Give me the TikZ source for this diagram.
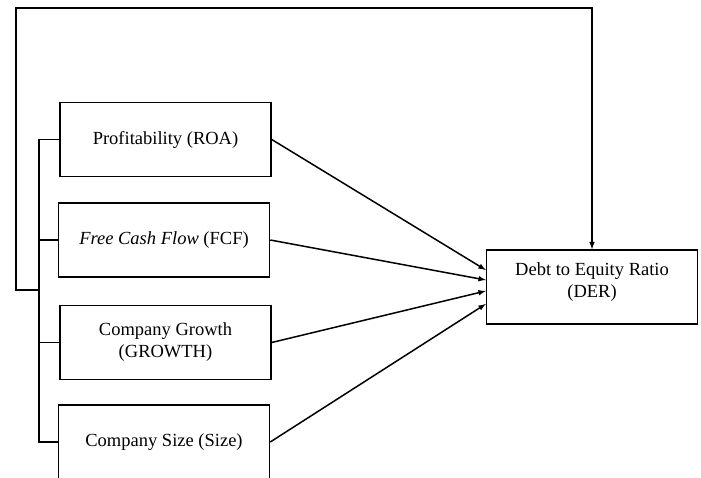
\documentclass[tikz,border=0pt]{standalone}
\usepackage{fontspec}
\setmainfont{Liberation Serif}
\usepackage{tikz}

\begin{document}
\begin{tikzpicture}[x=1pt, y=-1pt, line width=1.5pt,
		every node/.style = {shape=rectangle, draw, align=center,
	minimum width=211pt, minimum height=74pt, font=\fontsize{18.5}{22}\selectfont}]
			\useasboundingbox (0,0) rectangle (701,478);
			\clip (0,0) rectangle (701,478);
			\node (prof) at (165.5,139.5) {Profitability (ROA)};
			\node (fcf) at (164,240) {\textit{Free Cash Flow} (FCF)};
			\node (growth) at (165.5,342.5) {Company Growth \\ (GROWTH)};
			\node (size) at (164,442) {Company Size (Size)};
			\node[text depth=14pt] (der) at (592,287) {Debt to Equity Ratio \\ (DER)};
			\coordinate (bar) at (39,290);
			\coordinate (corner) at (16,8);
			\draw (prof.west) -| (bar) |- (size.west);
			\draw (fcf.west) -- (fcf.west -| bar);
			\draw (growth.west) -- (growth.west -| bar);
			\draw[-latex] (bar) -| (corner) -| (der.north);
			\draw[-latex] (prof.east) -- ([yshift=17pt]der.west);
			\draw[-latex] (fcf.east) -- ([yshift=7pt]der.west);
			\draw[-latex] (growth.east) -- ([yshift=-4pt]der.west);
			\draw[-latex] (size.east) -- ([yshift=-17pt]der.west);
		\end{tikzpicture}
\end{document}
